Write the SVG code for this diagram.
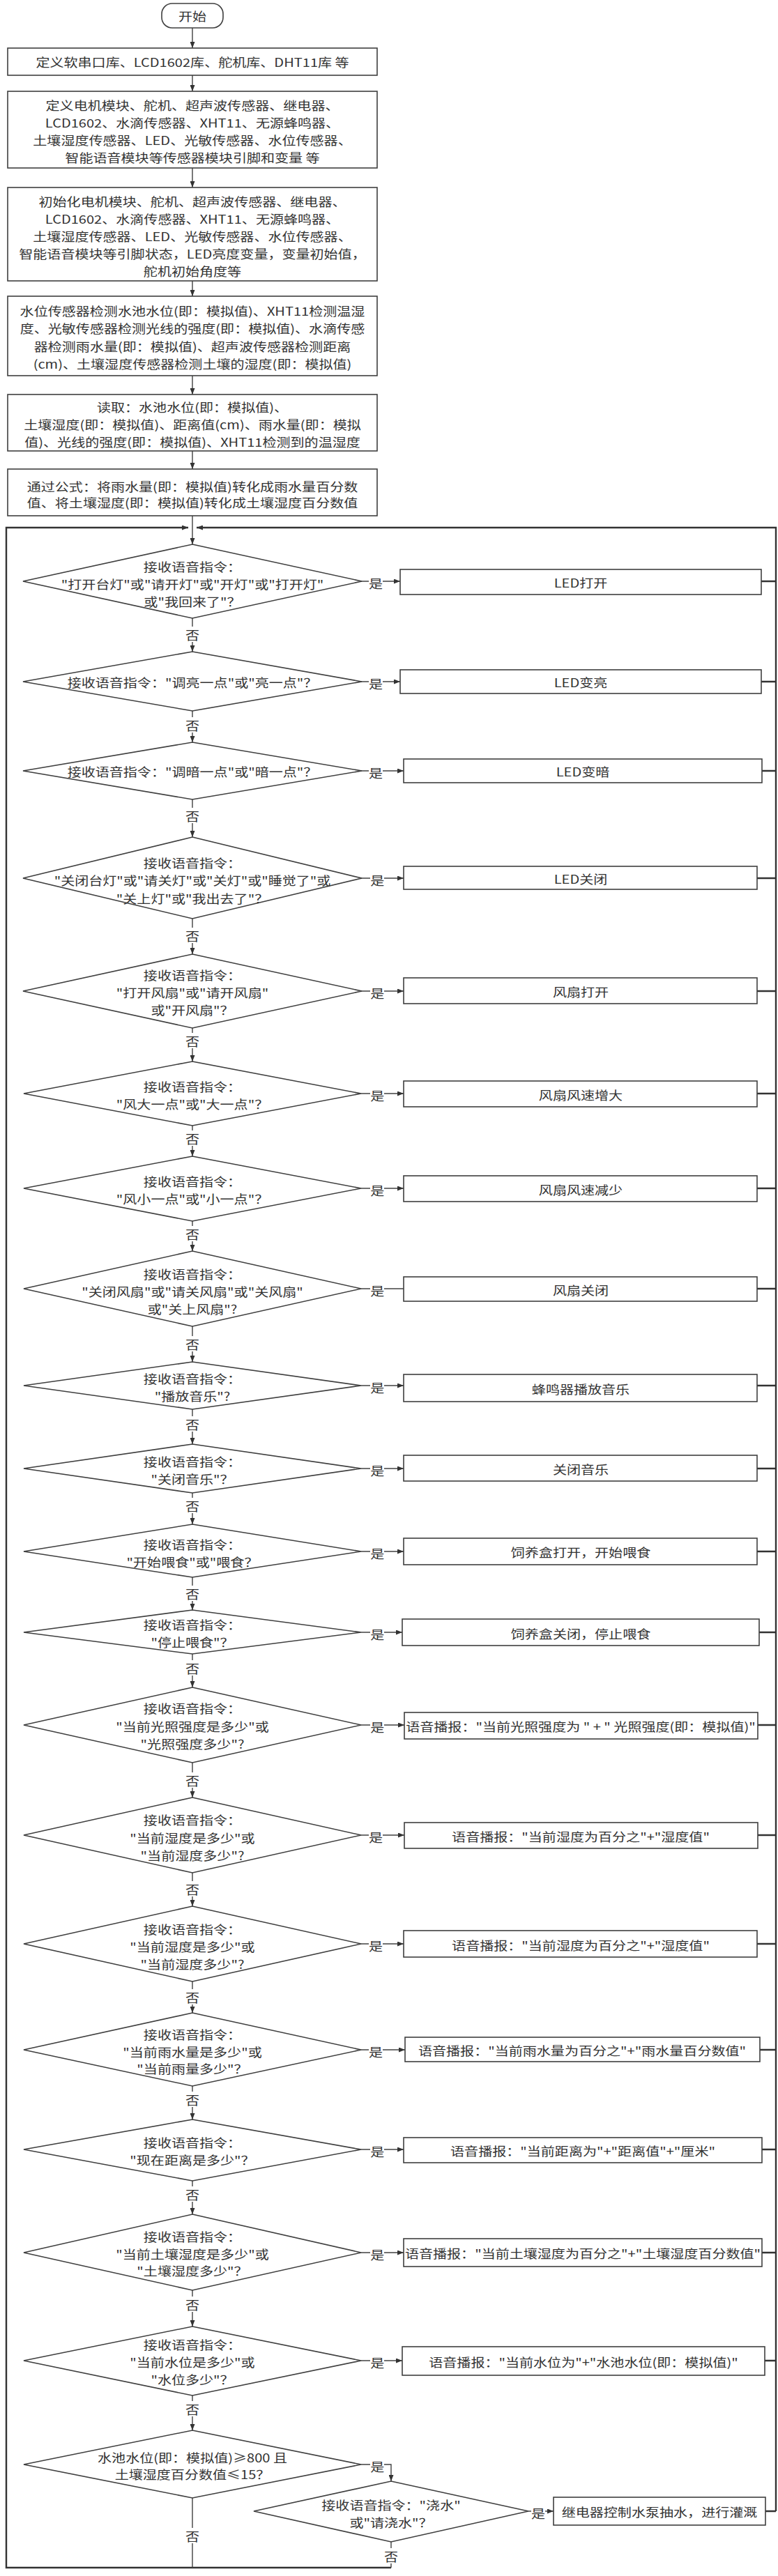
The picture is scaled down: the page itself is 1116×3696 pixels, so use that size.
<svg xmlns="http://www.w3.org/2000/svg" width="1116" height="3696" viewBox="0 0 1116 3696">
<style>
.bx{fill:#fff;stroke:#3f3f3f;stroke-width:1.6}
.dm{fill:#fff;stroke:#3f3f3f;stroke-width:1.6}
.t{font-family:"Noto Sans CJK SC","Noto Sans","Liberation Sans",sans-serif;font-size:17px;fill:#333;text-anchor:middle;dominant-baseline:central}
.ln{fill:none;stroke:#404040;stroke-width:1.4}
.lp{fill:none;stroke:#333;stroke-width:2.4}
.bg{fill:#fff}
</style>
<defs>
<marker id="ah" viewBox="0 0 9 7" refX="9" refY="3.5" markerWidth="9" markerHeight="7" markerUnits="userSpaceOnUse" orient="auto"><path d="M0,0 L9,3.5 L0,7 z" fill="#333"/></marker>
</defs>
<rect width="1116" height="3696" fill="#fff"/>
<g id="connectors">
<path class="ln" d="M276,40 V69" marker-end="url(#ah)"/>
<path class="ln" d="M276,108 V131" marker-end="url(#ah)"/>
<path class="ln" d="M276,241 V269" marker-end="url(#ah)"/>
<path class="ln" d="M276,403 V425" marker-end="url(#ah)"/>
<path class="ln" d="M276,539 V566" marker-end="url(#ah)"/>
<path class="ln" d="M276,647 V673" marker-end="url(#ah)"/>
<path class="ln" d="M276,740 V781" marker-end="url(#ah)"/>
<path class="lp" d="M561,3684 H9 V757 H270" marker-end="url(#ah)"/>
<path class="lp" d="M1113,3603 V757 H282" marker-end="url(#ah)"/>
<!-- no branches -->
<path class="ln" d="M276,887 V935" marker-end="url(#ah)"/>
<path class="ln" d="M276,1020 V1065" marker-end="url(#ah)"/>
<path class="ln" d="M276,1147 V1201" marker-end="url(#ah)"/>
<path class="ln" d="M276,1318 V1369" marker-end="url(#ah)"/>
<path class="ln" d="M276,1475 V1523" marker-end="url(#ah)"/>
<path class="ln" d="M276,1615 V1659" marker-end="url(#ah)"/>
<path class="ln" d="M276,1752 V1795" marker-end="url(#ah)"/>
<path class="ln" d="M276,1903 V1954" marker-end="url(#ah)"/>
<path class="ln" d="M276,2022 V2072" marker-end="url(#ah)"/>
<path class="ln" d="M276,2142 V2187" marker-end="url(#ah)"/>
<path class="ln" d="M276,2263 V2310" marker-end="url(#ah)"/>
<path class="ln" d="M276,2373 V2421" marker-end="url(#ah)"/>
<path class="ln" d="M276,2529 V2579" marker-end="url(#ah)"/>
<path class="ln" d="M276,2687 V2735" marker-end="url(#ah)"/>
<path class="ln" d="M276,2843 V2888" marker-end="url(#ah)"/>
<path class="ln" d="M276,2993 V3041" marker-end="url(#ah)"/>
<path class="ln" d="M276,3129 V3177" marker-end="url(#ah)"/>
<path class="ln" d="M276,3286 V3338" marker-end="url(#ah)"/>
<path class="ln" d="M276,3437 V3487" marker-end="url(#ah)"/>
<path class="ln" d="M276,3584 V3684"/>
<path class="ln" d="M561,3647 V3684"/>
<!-- yes branches -->
<path class="ln" d="M518,834 H574" marker-end="url(#ah)"/>
<path class="ln" d="M518,978 H574" marker-end="url(#ah)"/>
<path class="ln" d="M518,1106 H579" marker-end="url(#ah)"/>
<path class="ln" d="M518,1260 H579" marker-end="url(#ah)"/>
<path class="ln" d="M518,1422 H579" marker-end="url(#ah)"/>
<path class="ln" d="M518,1569 H579" marker-end="url(#ah)"/>
<path class="ln" d="M518,1705 H579" marker-end="url(#ah)"/>
<path class="ln" d="M518,1849 H579"/>
<path class="ln" d="M518,1988 H579" marker-end="url(#ah)"/>
<path class="ln" d="M518,2107 H579" marker-end="url(#ah)"/>
<path class="ln" d="M518,2226 H579" marker-end="url(#ah)"/>
<path class="ln" d="M518,2342 H577" marker-end="url(#ah)"/>
<path class="ln" d="M518,2475 H580" marker-end="url(#ah)"/>
<path class="ln" d="M518,2633 H580" marker-end="url(#ah)"/>
<path class="ln" d="M518,2789 H579" marker-end="url(#ah)"/>
<path class="ln" d="M518,2941 H581" marker-end="url(#ah)"/>
<path class="ln" d="M518,3084 H579" marker-end="url(#ah)"/>
<path class="ln" d="M518,3232 H579" marker-end="url(#ah)"/>
<path class="ln" d="M518,3387 H577" marker-end="url(#ah)"/>
<path class="ln" d="M518,3536 H561 V3560" marker-end="url(#ah)"/>
<path class="ln" d="M758,3603 H794" marker-end="url(#ah)"/>
<!-- return to loop -->
<path class="lp" d="M1092,834 H1113 M1092,978 H1113 M1093,1106 H1113 M1086,1260 H1113 M1086,1422 H1113 M1086,1569 H1113 M1086,1705 H1113 M1086,1849 H1113 M1086,1988 H1113 M1086,2107 H1113 M1086,2226 H1113 M1089,2342 H1113 M1087,2475 H1113 M1087,2633 H1113 M1086,2789 H1113 M1090,2941 H1113 M1093,3084 H1113 M1093,3232 H1113 M1097,3387 H1113 M1098,3603 H1113"/>
<!-- labels -->
<g id="no-labels">
<rect class="bg" x="265" y="899" width="22" height="22"/><rect class="bg" x="265" y="1029" width="22" height="22"/><rect class="bg" x="265" y="1159" width="22" height="22"/><rect class="bg" x="265" y="1331" width="22" height="22"/><rect class="bg" x="265" y="1482" width="22" height="22"/><rect class="bg" x="265" y="1622" width="22" height="22"/><rect class="bg" x="265" y="1759" width="22" height="22"/><rect class="bg" x="265" y="1917" width="22" height="22"/><rect class="bg" x="265" y="2032" width="22" height="22"/><rect class="bg" x="265" y="2149" width="22" height="22"/><rect class="bg" x="265" y="2275" width="22" height="22"/><rect class="bg" x="265" y="2382" width="22" height="22"/><rect class="bg" x="265" y="2543" width="22" height="22"/><rect class="bg" x="265" y="2699" width="22" height="22"/><rect class="bg" x="265" y="2854" width="22" height="22"/><rect class="bg" x="265" y="3001" width="22" height="22"/><rect class="bg" x="265" y="3137" width="22" height="22"/><rect class="bg" x="265" y="3295" width="22" height="22"/><rect class="bg" x="265" y="3445" width="22" height="22"/><rect class="bg" x="265" y="3627" width="22" height="22"/><rect class="bg" x="550" y="3656" width="22" height="22"/>
<g transform="translate(276 0) scale(1.18 1)">
<text class="t" x="0" y="910">否</text><text class="t" x="0" y="1040">否</text><text class="t" x="0" y="1170">否</text><text class="t" x="0" y="1342">否</text><text class="t" x="0" y="1493">否</text><text class="t" x="0" y="1633">否</text><text class="t" x="0" y="1770">否</text><text class="t" x="0" y="1928">否</text><text class="t" x="0" y="2043">否</text><text class="t" x="0" y="2160">否</text><text class="t" x="0" y="2286">否</text><text class="t" x="0" y="2393">否</text><text class="t" x="0" y="2554">否</text><text class="t" x="0" y="2710">否</text><text class="t" x="0" y="2865">否</text><text class="t" x="0" y="3012">否</text><text class="t" x="0" y="3148">否</text><text class="t" x="0" y="3306">否</text><text class="t" x="0" y="3456">否</text><text class="t" x="0" y="3638">否</text>
</g>
<g transform="translate(561 0) scale(1.18 1)"><text class="t" x="0" y="3667">否</text></g>
</g>
<g id="yes-labels">
<rect class="bg" x="529" y="824" width="20" height="22"/><rect class="bg" x="529" y="968" width="20" height="22"/><rect class="bg" x="529" y="1096" width="20" height="22"/><rect class="bg" x="531" y="1250" width="20" height="22"/><rect class="bg" x="531" y="1412" width="20" height="22"/><rect class="bg" x="531" y="1559" width="20" height="22"/><rect class="bg" x="531" y="1695" width="20" height="22"/><rect class="bg" x="531" y="1839" width="20" height="22"/><rect class="bg" x="531" y="1978" width="20" height="22"/><rect class="bg" x="531" y="2097" width="20" height="22"/><rect class="bg" x="531" y="2216" width="20" height="22"/><rect class="bg" x="531" y="2332" width="20" height="22"/><rect class="bg" x="531" y="2465" width="20" height="22"/><rect class="bg" x="529" y="2623" width="20" height="22"/><rect class="bg" x="529" y="2779" width="20" height="22"/><rect class="bg" x="529" y="2931" width="20" height="22"/><rect class="bg" x="531" y="3074" width="20" height="22"/><rect class="bg" x="531" y="3222" width="20" height="22"/><rect class="bg" x="531" y="3377" width="20" height="22"/><rect class="bg" x="531" y="3527" width="20" height="22"/><rect class="bg" x="762" y="3593" width="20" height="22"/>
<g transform="translate(539 0) scale(1.18 1)">
<text class="t" x="0" y="836">是</text><text class="t" x="0" y="980">是</text><text class="t" x="0" y="1108">是</text><text class="t" x="2" y="1262">是</text><text class="t" x="2" y="1424">是</text><text class="t" x="2" y="1571">是</text><text class="t" x="2" y="1707">是</text><text class="t" x="2" y="1851">是</text><text class="t" x="2" y="1990">是</text><text class="t" x="2" y="2109">是</text><text class="t" x="2" y="2228">是</text><text class="t" x="2" y="2344">是</text><text class="t" x="2" y="2477">是</text><text class="t" x="0" y="2635">是</text><text class="t" x="0" y="2791">是</text><text class="t" x="0" y="2943">是</text><text class="t" x="2" y="3086">是</text><text class="t" x="2" y="3234">是</text><text class="t" x="2" y="3389">是</text><text class="t" x="2" y="3538">是</text>
</g>
<g transform="translate(772 0) scale(1.18 1)"><text class="t" x="0" y="3605">是</text></g>
</g>
</g>
<g id="start"><rect class="bx" x="232" y="5" width="88" height="35" rx="15"/><g transform="translate(276 0) scale(1.18 1)"><text class="t" x="0" y="22.5">开始</text></g></g>
<g id="b1"><rect class="bx" x="11" y="69" width="530" height="39"/><g transform="translate(276 0) scale(1.18 1)"><text class="t" x="0" y="88.5">定义软串口库、LCD1602库、舵机库、DHT11库 等</text></g></g>
<g id="b2"><rect class="bx" x="11" y="131" width="530" height="110"/><g transform="translate(276 0) scale(1.18 1)">
<text class="t" x="0" y="150">定义电机模块、舵机、超声波传感器、继电器、</text>
<text class="t" x="0" y="175">LCD1602、水滴传感器、XHT11、无源蜂鸣器、</text>
<text class="t" x="0" y="200">土壤湿度传感器、LED、光敏传感器、水位传感器、</text>
<text class="t" x="0" y="225">智能语音模块等传感器模块引脚和变量 等</text></g></g>
<g id="b3"><rect class="bx" x="11" y="269" width="530" height="134"/><g transform="translate(276 0) scale(1.18 1)">
<text class="t" x="0" y="288">初始化电机模块、舵机、超声波传感器、继电器、</text>
<text class="t" x="0" y="313">LCD1602、水滴传感器、XHT11、无源蜂鸣器、</text>
<text class="t" x="0" y="338">土壤湿度传感器、LED、光敏传感器、水位传感器、</text>
<text class="t" x="0" y="363">智能语音模块等引脚状态，LED亮度变量，变量初始值，</text>
<text class="t" x="0" y="388">舵机初始角度等</text></g></g>
<g id="b4"><rect class="bx" x="11" y="425" width="530" height="114"/><g transform="translate(276 0) scale(1.18 1)">
<text class="t" x="0" y="445">水位传感器检测水池水位(即：模拟值)、XHT11检测温湿</text>
<text class="t" x="0" y="470">度、光敏传感器检测光线的强度(即：模拟值)、水滴传感</text>
<text class="t" x="0" y="496">器检测雨水量(即：模拟值)、超声波传感器检测距离</text>
<text class="t" x="0" y="521">(cm)、土壤湿度传感器检测土壤的湿度(即：模拟值)</text></g></g>
<g id="b5"><rect class="bx" x="11" y="566" width="530" height="81"/><g transform="translate(276 0) scale(1.18 1)">
<text class="t" x="0" y="583">读取：水池水位(即：模拟值)、</text>
<text class="t" x="0" y="608">土壤湿度(即：模拟值)、距离值(cm)、雨水量(即：模拟</text>
<text class="t" x="0" y="633">值)、光线的强度(即：模拟值)、XHT11检测到的温湿度</text></g></g>
<g id="b6"><rect class="bx" x="11" y="673" width="530" height="67"/><g transform="translate(276 0) scale(1.18 1)">
<text class="t" x="0" y="697">通过公式：将雨水量(即：模拟值)转化成雨水量百分数</text>
<text class="t" x="0" y="720">值、将土壤湿度(即：模拟值)转化成土壤湿度百分数值</text></g></g>

<g id="d1"><polygon class="dm" points="276,781 519,834 276,887 33,834"/><g transform="translate(276 0) scale(1.18 1)">
<text class="t" x="0" y="812">接收语音指令：</text><text class="t" x="0" y="837">"打开台灯"或"请开灯"或"开灯"或"打开灯"</text><text class="t" x="0" y="862">或"我回来了"？</text></g></g>
<g id="a1"><rect class="bx" x="574" y="817" width="518" height="36"/><g transform="translate(833 0) scale(1.18 1)"><text class="t" x="0" y="835">LED打开</text></g></g>

<g id="d2"><polygon class="dm" points="276,935 519,978 276,1020 33,978"/><g transform="translate(276 0) scale(1.18 1)">
<text class="t" x="0" y="978">接收语音指令："调亮一点"或"亮一点"？</text></g></g>
<g id="a2"><rect class="bx" x="574" y="961" width="518" height="34"/><g transform="translate(833 0) scale(1.18 1)"><text class="t" x="0" y="978">LED变亮</text></g></g>

<g id="d3"><polygon class="dm" points="276,1065 519,1106 276,1147 33,1106"/><g transform="translate(276 0) scale(1.18 1)">
<text class="t" x="0" y="1106">接收语音指令："调暗一点"或"暗一点"？</text></g></g>
<g id="a3"><rect class="bx" x="579" y="1089" width="514" height="34"/><g transform="translate(836 0) scale(1.18 1)"><text class="t" x="0" y="1106">LED变暗</text></g></g>

<g id="d4"><polygon class="dm" points="276,1201 519,1260 276,1318 33,1260"/><g transform="translate(276 0) scale(1.18 1)">
<text class="t" x="0" y="1237">接收语音指令：</text><text class="t" x="0" y="1262">"关闭台灯"或"请关灯"或"关灯"或"睡觉了"或</text><text class="t" x="0" y="1288">"关上灯"或"我出去了"？</text></g></g>
<g id="a4"><rect class="bx" x="579" y="1243" width="507" height="33"/><g transform="translate(833 0) scale(1.18 1)"><text class="t" x="0" y="1260">LED关闭</text></g></g>

<g id="d5"><polygon class="dm" points="276,1369 519,1422 276,1475 33,1422"/><g transform="translate(276 0) scale(1.18 1)">
<text class="t" x="0" y="1398">接收语音指令：</text><text class="t" x="0" y="1423">"打开风扇"或"请开风扇"</text><text class="t" x="0" y="1448">或"开风扇"？</text></g></g>
<g id="a5"><rect class="bx" x="579" y="1403" width="507" height="37"/><g transform="translate(833 0) scale(1.18 1)"><text class="t" x="0" y="1422">风扇打开</text></g></g>

<g id="d6"><polygon class="dm" points="276,1523 518,1569 276,1615 34,1569"/><g transform="translate(276 0) scale(1.18 1)">
<text class="t" x="0" y="1558">接收语音指令：</text><text class="t" x="0" y="1583">"风大一点"或"大一点"？</text></g></g>
<g id="a6"><rect class="bx" x="579" y="1551" width="507" height="37"/><g transform="translate(833 0) scale(1.18 1)"><text class="t" x="0" y="1570">风扇风速增大</text></g></g>

<g id="d7"><polygon class="dm" points="276,1659 518,1705 276,1752 34,1705"/><g transform="translate(276 0) scale(1.18 1)">
<text class="t" x="0" y="1694">接收语音指令：</text><text class="t" x="0" y="1719">"风小一点"或"小一点"？</text></g></g>
<g id="a7"><rect class="bx" x="579" y="1687" width="507" height="37"/><g transform="translate(833 0) scale(1.18 1)"><text class="t" x="0" y="1706">风扇风速减少</text></g></g>

<g id="d8"><polygon class="dm" points="276,1795 518,1849 276,1903 34,1849"/><g transform="translate(276 0) scale(1.18 1)">
<text class="t" x="0" y="1827">接收语音指令：</text><text class="t" x="0" y="1852">"关闭风扇"或"请关风扇"或"关风扇"</text><text class="t" x="0" y="1877">或"关上风扇"?</text></g></g>
<g id="a8"><rect class="bx" x="579" y="1832" width="507" height="35"/><g transform="translate(833 0) scale(1.18 1)"><text class="t" x="0" y="1850">风扇关闭</text></g></g>

<g id="d9"><polygon class="dm" points="276,1954 518,1988 276,2022 34,1988"/><g transform="translate(276 0) scale(1.18 1)">
<text class="t" x="0" y="1977">接收语音指令：</text><text class="t" x="0" y="2002">"播放音乐"?</text></g></g>
<g id="a9"><rect class="bx" x="579" y="1972" width="507" height="39"/><g transform="translate(833 0) scale(1.18 1)"><text class="t" x="0" y="1992">蜂鸣器播放音乐</text></g></g>

<g id="d10"><polygon class="dm" points="276,2072 518,2107 276,2142 34,2107"/><g transform="translate(276 0) scale(1.18 1)">
<text class="t" x="0" y="2096">接收语音指令：</text><text class="t" x="0" y="2121">"关闭音乐"？</text></g></g>
<g id="a10"><rect class="bx" x="579" y="2088" width="507" height="37"/><g transform="translate(833 0) scale(1.18 1)"><text class="t" x="0" y="2107">关闭音乐</text></g></g>

<g id="d11"><polygon class="dm" points="276,2187 518,2226 276,2263 34,2226"/><g transform="translate(276 0) scale(1.18 1)">
<text class="t" x="0" y="2215">接收语音指令：</text><text class="t" x="0" y="2240">"开始喂食"或"喂食？</text></g></g>
<g id="a11"><rect class="bx" x="579" y="2207" width="507" height="38"/><g transform="translate(833 0) scale(1.18 1)"><text class="t" x="0" y="2226">饲养盒打开，开始喂食</text></g></g>

<g id="d12"><polygon class="dm" points="276,2310 518,2342 276,2373 34,2342"/><g transform="translate(276 0) scale(1.18 1)">
<text class="t" x="0" y="2330">接收语音指令：</text><text class="t" x="0" y="2355">"停止喂食"？</text></g></g>
<g id="a12"><rect class="bx" x="577" y="2323" width="512" height="38"/><g transform="translate(833 0) scale(1.18 1)"><text class="t" x="0" y="2343">饲养盒关闭，停止喂食</text></g></g>

<g id="d13"><polygon class="dm" points="276,2421 518,2475 276,2529 34,2475"/><g transform="translate(276 0) scale(1.18 1)">
<text class="t" x="0" y="2450">接收语音指令：</text><text class="t" x="0" y="2476">"当前光照强度是多少"或</text><text class="t" x="0" y="2501">"光照强度多少"?</text></g></g>
<g id="a13"><rect class="bx" x="580" y="2457" width="507" height="38"/><g transform="translate(833 0) scale(1.18 1)"><text class="t" x="0" y="2476">语音播报："当前光照强度为 " + " 光照强度(即：模拟值)"</text></g></g>

<g id="d14"><polygon class="dm" points="276,2579 518,2633 276,2687 34,2633"/><g transform="translate(276 0) scale(1.18 1)">
<text class="t" x="0" y="2610">接收语音指令：</text><text class="t" x="0" y="2636">"当前湿度是多少"或</text><text class="t" x="0" y="2661">"当前湿度多少"?</text></g></g>
<g id="a14"><rect class="bx" x="580" y="2615" width="507" height="37"/><g transform="translate(833 0) scale(1.18 1)"><text class="t" x="0" y="2634">语音播报："当前湿度为百分之"+"湿度值"</text></g></g>

<g id="d15"><polygon class="dm" points="276,2735 518,2789 276,2843 34,2789"/><g transform="translate(276 0) scale(1.18 1)">
<text class="t" x="0" y="2767">接收语音指令：</text><text class="t" x="0" y="2792">"当前湿度是多少"或</text><text class="t" x="0" y="2817">"当前湿度多少"?</text></g></g>
<g id="a15"><rect class="bx" x="579" y="2770" width="507" height="38"/><g transform="translate(833 0) scale(1.18 1)"><text class="t" x="0" y="2790">语音播报："当前湿度为百分之"+"湿度值"</text></g></g>

<g id="d16"><polygon class="dm" points="276,2888 518,2941 276,2993 34,2941"/><g transform="translate(276 0) scale(1.18 1)">
<text class="t" x="0" y="2918">接收语音指令：</text><text class="t" x="0" y="2943">"当前雨水量是多少"或</text><text class="t" x="0" y="2967">"当前雨量多少"？</text></g></g>
<g id="a16"><rect class="bx" x="581" y="2923" width="509" height="35"/><g transform="translate(835 0) scale(1.18 1)"><text class="t" x="0" y="2941">语音播报："当前雨水量为百分之"+"雨水量百分数值"</text></g></g>

<g id="d17"><polygon class="dm" points="276,3041 518,3084 276,3129 34,3084"/><g transform="translate(276 0) scale(1.18 1)">
<text class="t" x="0" y="3073">接收语音指令：</text><text class="t" x="0" y="3098">"现在距离是多少"？</text></g></g>
<g id="a17"><rect class="bx" x="579" y="3067" width="514" height="36"/><g transform="translate(836 0) scale(1.18 1)"><text class="t" x="0" y="3085">语音播报："当前距离为"+"距离值"+"厘米"</text></g></g>

<g id="d18"><polygon class="dm" points="276,3177 518,3232 276,3286 34,3232"/><g transform="translate(276 0) scale(1.18 1)">
<text class="t" x="0" y="3208">接收语音指令：</text><text class="t" x="0" y="3233">"当前土壤湿度是多少"或</text><text class="t" x="0" y="3257">"土壤湿度多少"？</text></g></g>
<g id="a18"><rect class="bx" x="579" y="3212" width="514" height="40"/><g transform="translate(836 0) scale(1.18 1)"><text class="t" x="0" y="3232">语音播报："当前土壤湿度为百分之"+"土壤湿度百分数值"</text></g></g>

<g id="d19"><polygon class="dm" points="276,3338 518,3387 276,3437 34,3387"/><g transform="translate(276 0) scale(1.18 1)">
<text class="t" x="0" y="3363">接收语音指令：</text><text class="t" x="0" y="3388">"当前水位是多少"或</text><text class="t" x="0" y="3413">"水位多少"？</text></g></g>
<g id="a19"><rect class="bx" x="577" y="3367" width="520" height="41"/><g transform="translate(837 0) scale(1.18 1)"><text class="t" x="0" y="3388">语音播报："当前水位为"+"水池水位(即：模拟值)"</text></g></g>

<g id="d20"><polygon class="dm" points="276,3487 518,3536 276,3584 34,3536"/><g transform="translate(276 0) scale(1.18 1)">
<text class="t" x="0" y="3525">水池水位(即：模拟值)≥800 且</text><text class="t" x="0" y="3549">土壤湿度百分数值≤15？</text></g></g>

<g id="d21"><polygon class="dm" points="561,3560 758,3603 561,3647 364,3603"/><g transform="translate(561 0) scale(1.18 1)">
<text class="t" x="0" y="3593">接收语音指令："浇水"</text><text class="t" x="0" y="3618">或"请浇水"？</text></g></g>
<g id="a21"><rect class="bx" x="794" y="3583" width="304" height="40"/><g transform="translate(946 0) scale(1.18 1)"><text class="t" x="0" y="3603">继电器控制水泵抽水，进行灌溉</text></g></g>
</svg>
